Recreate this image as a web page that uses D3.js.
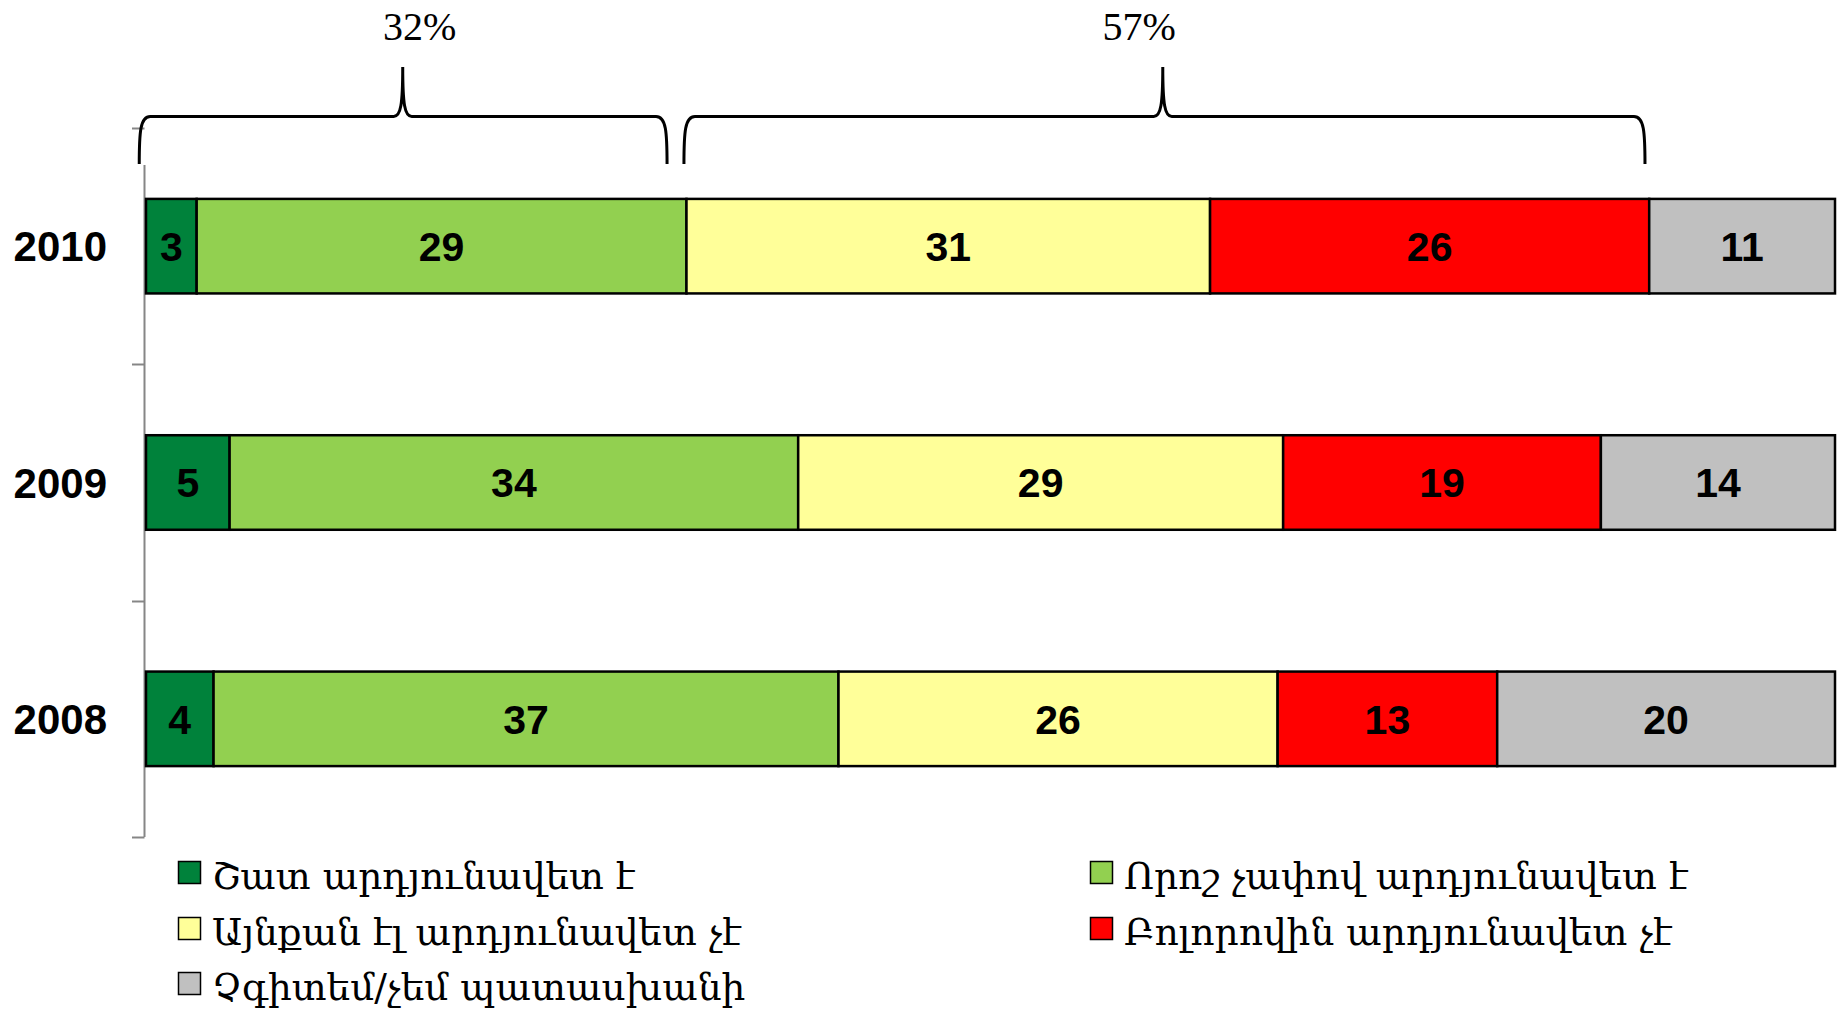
<!DOCTYPE html>
<html>
<head>
<meta charset="utf-8">
<script src="https://cdn.jsdelivr.net/npm/d3@7"></script>
<style>
  html, body { margin: 0; padding: 0; background: #fff; }
  svg { display: block; }
</style>
</head>
<body>
<svg id="chart" width="1845" height="1017"></svg>
<script>
// ---- data ----
const years = ["2010", "2009", "2008"];
const seriesNames = [
  "Շատ արդյունավետ է",
  "Որոշ չափով արդյունավետ է",
  "Այնքան էլ արդյունավետ չէ",
  "Բոլորովին արդյունավետ չէ",
  "Չգիտեմ/չեմ պատասխանի"
];
const veryEffective    = [3, 5, 4];
const somewhatEffective = [29, 34, 37];
const notVeryEffective = [31, 29, 26];
const notAtAllEffective = [26, 19, 13];
const dontKnow         = [11, 14, 20];
const seriesColors = ["#00823B", "#92D050", "#FFFF99", "#FF0000", "#C0C0C0"];
// bracket annotations (share of the 100% axis)
const braceLabels = ["32%", "57%"];
const braceFrom   = [-0.004, 0.3185];
const braceTo     = [0.3085, 0.8875];
const braceTip    = [0.152, 0.602];
const braceText   = [0.162, 0.588];

// ---- build table ----
const allSeries = [veryEffective, somewhatEffective, notVeryEffective, notAtAllEffective, dontKnow];
const table = years.map((y, i) => {
  const row = { year: y };
  seriesNames.forEach((k, j) => row[k] = allSeries[j][i]);
  return row;
});

const svg = d3.select("#chart");

const x = d3.scaleLinear().domain([0, 1]).range([146, 1835]);
const y = d3.scaleBand().domain(years).range([128, 837]).paddingInner(0.6).paddingOuter(0.3);
const color = d3.scaleOrdinal().domain(seriesNames).range(seriesColors);

const stacked = d3.stack().keys(seriesNames).offset(d3.stackOffsetExpand)(table);

// ---- y axis (gray line + ticks at category boundaries) ----
const axisColor = "#868686";
const step = y.step();
const bounds = [128, 128 + step, 128 + 2 * step, 837];
svg.append("line")
  .attr("x1", 144.5).attr("x2", 144.5)
  .attr("y1", 165).attr("y2", 837)
  .attr("stroke", axisColor).attr("stroke-width", 2);
svg.selectAll(".ytick").data(bounds).enter().append("line")
  .attr("x1", 132).attr("x2", 144.5)
  .attr("y1", d => Math.round(d) + 0.5).attr("y2", d => Math.round(d) + 0.5)
  .attr("stroke", axisColor).attr("stroke-width", 2);

svg.selectAll(".ylabel").data(years).enter().append("text")
  .attr("x", 107)
  .attr("y", d => y(d) + y.bandwidth() / 2)
  .attr("dy", "0.36em")
  .attr("text-anchor", "end")
  .attr("font-family", "Liberation Sans, Arial, sans-serif")
  .attr("font-weight", "bold")
  .attr("font-size", 42)
  .text(d => d);

// ---- bars ----
const groups = svg.selectAll(".series").data(stacked).enter().append("g")
  .attr("fill", d => color(d.key));

groups.selectAll("rect").data(d => d).enter().append("rect")
  .attr("x", d => x(d[0]))
  .attr("y", d => y(d.data.year))
  .attr("width", d => x(d[1]) - x(d[0]))
  .attr("height", y.bandwidth())
  .attr("stroke", "#000")
  .attr("stroke-width", 2.5);

groups.each(function(s) {
  d3.select(this).selectAll("text").data(s).enter().append("text")
    .attr("x", d => (x(d[0]) + x(d[1])) / 2)
    .attr("y", d => y(d.data.year) + y.bandwidth() / 2)
    .attr("dy", "0.36em")
    .attr("text-anchor", "middle")
    .attr("fill", "#000")
    .attr("font-family", "Liberation Sans, Arial, sans-serif")
    .attr("font-weight", "bold")
    .attr("font-size", 41)
    .text(d => d.data[s.key]);
});

// ---- braces ----
const yb = 164, yl = 116.5, yt = 67;
function bracePath(x1, x2, tx) {
  const p = d3.path();
  p.moveTo(x1, yb);
  p.bezierCurveTo(x1, yb - 32, x1 + 1, yl, x1 + 11, yl);
  p.lineTo(tx - 9, yl);
  p.bezierCurveTo(tx - 2, yl, tx, yl - 12, tx, yt);
  p.bezierCurveTo(tx, yl - 12, tx + 2, yl, tx + 9, yl);
  p.lineTo(x2 - 11, yl);
  p.bezierCurveTo(x2 - 1, yl, x2, yb - 32, x2, yb);
  return p.toString();
}
braceLabels.forEach((lab, i) => {
  svg.append("path")
    .attr("d", bracePath(x(braceFrom[i]), x(braceTo[i]), x(braceTip[i])))
    .attr("fill", "none")
    .attr("stroke", "#000")
    .attr("stroke-width", 3);
  svg.append("text")
    .attr("x", x(braceText[i]))
    .attr("y", 40)
    .attr("text-anchor", "middle")
    .attr("font-family", "Liberation Serif, Times New Roman, serif")
    .attr("font-size", 40)
    .text(lab);
});

// ---- legend ----
const legendPos = [
  { x: 178, y: 861 },
  { x: 1090, y: 861 },
  { x: 178, y: 917 },
  { x: 1090, y: 917 },
  { x: 178, y: 972 }
];
const leg = svg.selectAll(".legend").data(seriesNames).enter().append("g")
  .attr("transform", (d, i) => `translate(${legendPos[i].x},${legendPos[i].y})`);
leg.append("rect")
  .attr("x", 0.5).attr("y", 0.5)
  .attr("width", 22).attr("height", 22)
  .attr("fill", d => color(d))
  .attr("stroke", "#000")
  .attr("stroke-width", 1.5);
leg.append("text")
  .attr("x", 34)
  .attr("y", 14)
  .attr("dy", "0.36em")
  .attr("font-family", "DejaVu Serif, serif")
  .attr("font-size", 37.5)
  .text(d => d);
</script>
</body>
</html>
